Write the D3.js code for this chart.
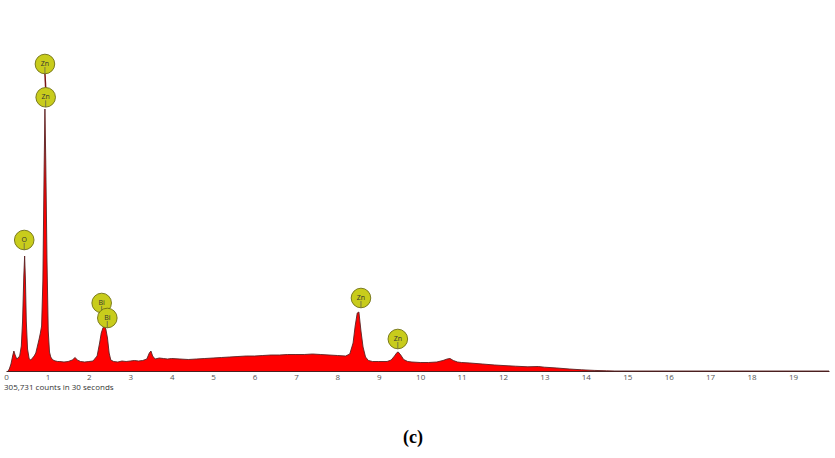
<!DOCTYPE html>
<html>
<head>
<meta charset="utf-8">
<script src="https://cdn.jsdelivr.net/npm/d3@7"></script>
<style>
  body { margin: 0; background: #fff; }
  svg { display: block; }
</style>
</head>
<body>
<svg></svg>
<script>
const wSvg = 835, hSvg = 458;

// spectrum: energy (keV) and counts
const energy = [0.05, 0.08, 0.12, 0.16, 0.19, 0.22, 0.26, 0.29, 0.33, 0.37, 0.40, 0.43, 0.45, 0.47, 0.49, 0.52,
    0.56, 0.60, 0.64, 0.68, 0.72, 0.76, 0.80, 0.83, 0.86, 0.89, 0.92, 0.94, 0.96, 0.99, 1.02, 1.05, 1.08,
    1.12, 1.16, 1.20, 1.25, 1.30, 1.40, 1.50, 1.60, 1.67, 1.72, 1.80, 1.90, 2.00, 2.10, 2.20, 2.26, 2.30,
    2.34, 2.37, 2.41, 2.45, 2.49, 2.53, 2.60, 2.70, 2.80, 2.90, 3.00, 3.10, 3.20, 3.30, 3.40, 3.46, 3.50,
    3.54, 3.60, 3.70, 3.80, 3.90, 4.00, 4.20, 4.40, 4.60, 4.80, 5.00, 5.20, 5.40, 5.60, 5.80, 6.00, 6.20,
    6.40, 6.60, 6.80, 7.00, 7.20, 7.40, 7.60, 7.80, 8.00, 8.20, 8.30, 8.38, 8.43, 8.48, 8.52, 8.57, 8.62,
    8.68, 8.75, 8.85, 9.00, 9.20, 9.30, 9.38, 9.44, 9.47, 9.53, 9.60, 9.70, 9.80, 10.0, 10.2, 10.4, 10.55,
    10.65, 10.72, 10.8, 10.9, 11.0, 11.2, 11.5, 11.8, 12.0, 12.3, 12.6, 12.85, 13.0, 13.3, 13.6, 13.9,
    14.2, 14.5, 14.7, 19.87];
const counts = [0, 200, 700, 1500, 2000, 1600, 1200, 1300, 1500, 2500, 5000, 9500, 11500, 9000, 5000, 2200,
    1200, 1100, 1300, 1500, 1800, 2500, 3200, 3800, 4500, 9000, 20000, 26200, 21000, 11000, 4000, 1900, 1400,
    1150, 1050, 1000, 950, 950, 900, 950, 1100, 1350, 1100, 950, 900, 950, 1000, 1500, 2800, 3800,
    4300, 4500, 4200, 3300, 1800, 1100, 950, 900, 1000, 950, 1000, 1050, 1000, 1050, 1200, 1800, 2000,
    1500, 1200, 1300, 1250, 1200, 1250, 1200, 1150, 1200, 1250, 1300, 1350, 1400, 1450, 1500, 1500, 1550,
    1600, 1600, 1650, 1650, 1650, 1700, 1650, 1600, 1550, 1500, 1700, 2800, 4500, 5800, 5900, 4000, 2400,
    1400, 1050, 950, 950, 950, 1100, 1500, 1850, 1900, 1600, 1150, 950, 900, 850, 850, 900, 1050,
    1200, 1250, 1050, 900, 850, 800, 700, 600, 550, 480, 420, 450, 380, 300, 200, 120,
    60, 20, 0, 0];

// element markers: label, energy, count level of the circle centre
const markerLabels = ["Zn", "Zn", "O", "Bi", "Bi", "Zn", "Zn"];
const markerEnergy = [0.94, 0.958, 0.44, 2.31, 2.446, 8.57, 9.46];
const markerLevel = [30700, 27370, 13100, 6800, 5300, 7300, 3200];

const xTicks = d3.range(0, 20);
const countsNote = "305,731 counts in 30 seconds";
const caption = "(c)";

const spectrum = energy.map((e, i) => ({ e: e, c: counts[i] }));
const markers = markerLabels.map((l, i) => ({ label: l, e: markerEnergy[i], c: markerLevel[i] }));

const svg = d3.select("svg")
    .attr("width", wSvg)
    .attr("height", hSvg);

const x = d3.scaleLinear().domain([0, 19.87]).range([6, 829]);
const y = d3.scaleLinear().domain([0, 33000]).range([371, 41]);

const area = d3.area()
    .x(d => x(d.e))
    .y0(y(0))
    .y1(d => y(d.c));

const line = d3.line()
    .x(d => x(d.e))
    .y(d => y(d.c));

svg.append("path")
    .datum(spectrum)
    .attr("fill", "#ff0000")
    .attr("d", area);

svg.append("path")
    .datum(spectrum)
    .attr("fill", "none")
    .attr("stroke", "#5a2222")
    .attr("stroke-width", 0.9)
    .attr("d", line);

// axis
const xAxis = d3.axisBottom(x)
    .tickValues(xTicks)
    .tickSize(0)
    .tickPadding(3)
    .tickFormat(d3.format("d"));

const axisG = svg.append("g")
    .attr("transform", `translate(0, ${y(0)})`)
    .call(xAxis);

axisG.select(".domain")
    .attr("stroke", "#4a2020")
    .attr("stroke-width", 1);

axisG.selectAll("text")
    .attr("fill", "#555")
    .attr("font-family", "'Open Sans', sans-serif")
    .attr("font-size", 8);

svg.append("text")
    .attr("x", 4)
    .attr("y", 390)
    .attr("font-family", "'Open Sans', sans-serif")
    .attr("font-size", 8)
    .attr("fill", "#333")
    .text(countsNote);

// marker connecting line for the stacked Zn L labels
svg.append("line")
    .attr("x1", x(markers[0].e)).attr("y1", y(markers[0].c) + 9.5)
    .attr("x2", x(markers[1].e)).attr("y2", y(markers[1].c) - 9.5)
    .attr("stroke", "#7a1515")
    .attr("stroke-width", 1.5);

const mG = svg.append("g")
    .selectAll("g")
    .data(markers)
    .enter()
    .append("g")
    .attr("transform", d => `translate(${x(d.e)}, ${y(d.c)})`);

mG.append("circle")
    .attr("r", 9.8)
    .attr("fill", "#c8cc1c")
    .attr("stroke", "#6f6f12")
    .attr("stroke-width", 0.9);

mG.append("line")
    .attr("x1", 0).attr("y1", 3)
    .attr("x2", 0).attr("y2", 9.8)
    .attr("stroke", "#555")
    .attr("stroke-width", 0.7);

mG.append("text")
    .attr("y", 1.5)
    .attr("text-anchor", "middle")
    .attr("font-family", "'Open Sans', sans-serif")
    .attr("font-size", 7)
    .attr("fill", "#333")
    .text(d => d.label);

svg.append("text")
    .attr("x", 413)
    .attr("y", 443)
    .attr("text-anchor", "middle")
    .attr("font-family", "'Liberation Serif', serif")
    .attr("font-weight", "bold")
    .attr("font-size", 18)
    .attr("fill", "#000")
    .text(caption);
</script>
</body>
</html>
